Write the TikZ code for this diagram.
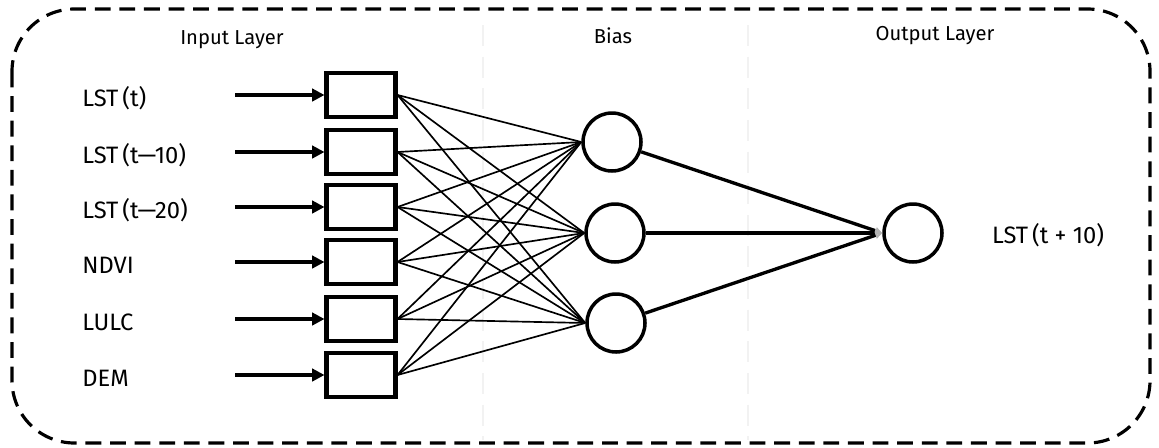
\documentclass[tikz,border=0pt]{standalone}
\usepackage{fontspec}
\setmainfont{Fira Sans}
\usetikzlibrary{arrows.meta}
\begin{document}
\begin{tikzpicture}[x=0.02cm,y=-0.02cm,
  lbl/.style={font=\fontsize{13.5}{15}\selectfont, inner sep=0pt},
  title/.style={font=\fontsize{11.5}{13}\selectfont, inner sep=0pt},
  inbox/.style={draw, line width=2.3pt, minimum width=1.38cm, minimum height=0.88cm, inner sep=0pt},
  neuron/.style={draw, circle, line width=2pt, minimum size=1.16cm, inner sep=0pt},
  inarrow/.style={line width=2.1pt, -{Triangle[length=7pt,width=7pt]}},
  wire/.style={line width=0.95pt},
  outwire/.style={line width=1.9pt, -{Triangle[length=4pt,width=4pt,color=gray!60,fill=gray!40]}},
  frame/.style={line width=1.8pt, dash pattern=on 9pt off 5pt, rounded corners=1.25cm},
  ghost/.style={gray!10, line width=0.8pt, dash pattern=on 12pt off 6pt}
]
\useasboundingbox (0,0) rectangle (1159,447);
% faint dividers
\draw[ghost] (483,25) -- (483,440);
\draw[ghost] (748,25) -- (748,440);
% frame
\draw[frame] (12,9) rectangle (1150,443);
% titles
\node[title] (tin) at (232,40) {Input Layer};
\node[title] (tbias) at (613,36) {Bias};
\node[title] (tout) at (935,36) {Output Layer};
% inputs
\foreach \i/\y/\t in {1/95/{LST\,(t)},2/152/{LST\,(t—10)},3/207/{LST\,(t—20)},4/262/{NDVI},5/319/{LULC},6/375/{DEM}}{
  \node[lbl, anchor=west] (l\i) at (82,\y+3) {\t};
  \coordinate (s\i) at (235,\y);
  \node[inbox] (b\i) at (361,\y) {};
  \draw[inarrow] (s\i) -- (b\i.west);
}
% hidden
\node[neuron] (h1) at (612,142) {};
\node[neuron] (h2) at (615,233) {};
\node[neuron] (h3) at (616,323) {};
% output
\node[neuron] (o) at (913,233) {};
\node[lbl] (ol) at (1048,235) {LST\,(t + 10)};
% wires
\foreach \i in {1,...,6}{
  \foreach \j in {1,2,3}{
    \draw[wire] (b\i.east) -- (h\j.west);
  }
}
\foreach \j in {1,2,3}{
  \draw[outwire] (h\j) -- (o.west);
}
\end{tikzpicture}
\end{document}
